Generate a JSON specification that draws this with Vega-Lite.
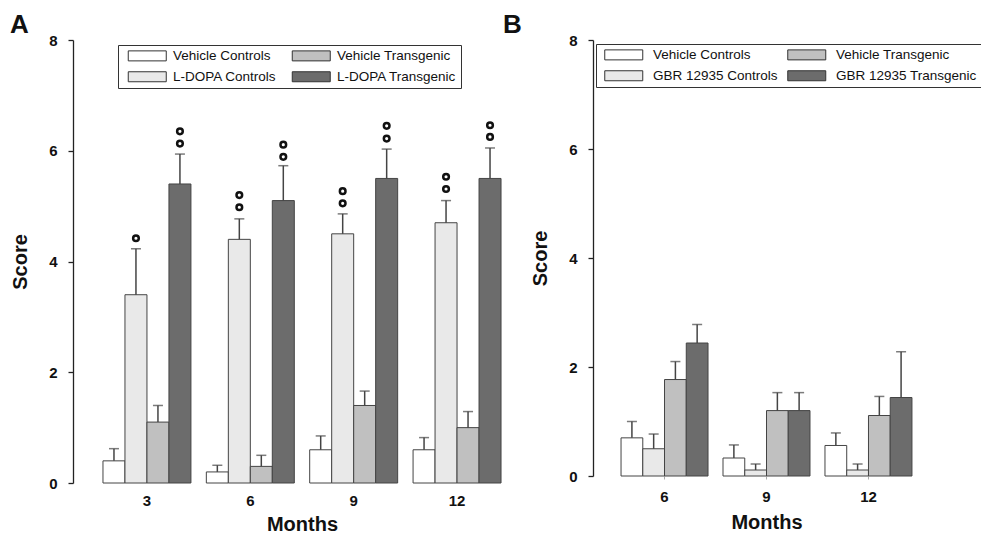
{
  "$schema": "https://vega.github.io/schema/vega-lite/v6.json",
  "background": "white",
  "padding": {"left": 10, "top": 12, "right": 0, "bottom": 0},
  "config": {
    "font": "Liberation Sans",
    "view": {"stroke": null},
    "axis": {"grid": false, "domainColor": "#222", "tickColor": "#222", "labelColor": "#111", "titleColor": "#111", "labelFont": "Liberation Sans", "titleFont": "Liberation Sans", "labelFontWeight": "bold", "titleFontWeight": "bold", "labelFontSize": 15, "titleFontSize": 20},
    "axisY": {"domainWidth": 1.3, "tickWidth": 1.3, "tickSize": 5, "labelPadding": 11, "titlePadding": 18, "format": "d"},
    "axisX": {"domain": false, "labelAngle": 0, "labelPadding": 10, "titlePadding": 6},
    "legend": {"labelFont": "Liberation Sans", "labelFontSize": 13.5, "labelColor": "#111", "labelLimit": 400}
  },
  "datasets": {
    "a": [
      {"month": 3, "group": "Vehicle Controls", "mean": 0.4, "err": 0.62},
      {"month": 3, "group": "L-DOPA Controls", "mean": 3.4, "err": 4.23},
      {"month": 3, "group": "Vehicle Transgenic", "mean": 1.1, "err": 1.4},
      {"month": 3, "group": "L-DOPA Transgenic", "mean": 5.4, "err": 5.94},
      {"month": 6, "group": "Vehicle Controls", "mean": 0.2, "err": 0.32},
      {"month": 6, "group": "L-DOPA Controls", "mean": 4.4, "err": 4.77},
      {"month": 6, "group": "Vehicle Transgenic", "mean": 0.3, "err": 0.5},
      {"month": 6, "group": "L-DOPA Transgenic", "mean": 5.1, "err": 5.73},
      {"month": 9, "group": "Vehicle Controls", "mean": 0.6, "err": 0.85},
      {"month": 9, "group": "L-DOPA Controls", "mean": 4.5, "err": 4.86},
      {"month": 9, "group": "Vehicle Transgenic", "mean": 1.4, "err": 1.66},
      {"month": 9, "group": "L-DOPA Transgenic", "mean": 5.5, "err": 6.03},
      {"month": 12, "group": "Vehicle Controls", "mean": 0.6, "err": 0.82},
      {"month": 12, "group": "L-DOPA Controls", "mean": 4.7, "err": 5.1},
      {"month": 12, "group": "Vehicle Transgenic", "mean": 1.0, "err": 1.29},
      {"month": 12, "group": "L-DOPA Transgenic", "mean": 5.5, "err": 6.05}
    ],
    "aSig": [
      {"month": 3, "group": "L-DOPA Controls", "y": 4.42},
      {"month": 3, "group": "L-DOPA Transgenic", "y": 6.13},
      {"month": 3, "group": "L-DOPA Transgenic", "y": 6.35},
      {"month": 6, "group": "L-DOPA Controls", "y": 4.98},
      {"month": 6, "group": "L-DOPA Controls", "y": 5.2},
      {"month": 6, "group": "L-DOPA Transgenic", "y": 5.89},
      {"month": 6, "group": "L-DOPA Transgenic", "y": 6.11},
      {"month": 9, "group": "L-DOPA Controls", "y": 5.05},
      {"month": 9, "group": "L-DOPA Controls", "y": 5.27},
      {"month": 9, "group": "L-DOPA Transgenic", "y": 6.22},
      {"month": 9, "group": "L-DOPA Transgenic", "y": 6.45},
      {"month": 12, "group": "L-DOPA Controls", "y": 5.31},
      {"month": 12, "group": "L-DOPA Controls", "y": 5.53},
      {"month": 12, "group": "L-DOPA Transgenic", "y": 6.25},
      {"month": 12, "group": "L-DOPA Transgenic", "y": 6.46}
    ],
    "b": [
      {"month": 6, "group": "Vehicle Controls", "mean": 0.7, "err": 1.0},
      {"month": 6, "group": "GBR 12935 Controls", "mean": 0.5, "err": 0.77},
      {"month": 6, "group": "Vehicle Transgenic", "mean": 1.77, "err": 2.1},
      {"month": 6, "group": "GBR 12935 Transgenic", "mean": 2.44, "err": 2.78},
      {"month": 9, "group": "Vehicle Controls", "mean": 0.33, "err": 0.57},
      {"month": 9, "group": "GBR 12935 Controls", "mean": 0.11, "err": 0.22},
      {"month": 9, "group": "Vehicle Transgenic", "mean": 1.2, "err": 1.53},
      {"month": 9, "group": "GBR 12935 Transgenic", "mean": 1.2, "err": 1.53},
      {"month": 12, "group": "Vehicle Controls", "mean": 0.56, "err": 0.79},
      {"month": 12, "group": "GBR 12935 Controls", "mean": 0.11, "err": 0.22},
      {"month": 12, "group": "Vehicle Transgenic", "mean": 1.11, "err": 1.46},
      {"month": 12, "group": "GBR 12935 Transgenic", "mean": 1.44, "err": 2.28}
    ]
  },
  "bounds": "flush",
  "spacing": 62,
  "resolve": {"scale": {"x": "independent", "y": "independent", "xOffset": "independent", "fill": "independent"}, "legend": {"fill": "independent"}},
  "hconcat": [
    {
      "width": 458,
      "height": 443,
      "title": {"text": "A", "anchor": "start", "frame": "group", "fontSize": 26, "fontWeight": "bold", "color": "#111", "dx": -63, "offset": -5},
      "layer": [
        {
          "data": {"name": "a"},
          "mark": {"type": "bar", "stroke": "#444", "strokeWidth": 1},
          "encoding": {
            "x": {"field": "month", "type": "ordinal", "sort": [3, 6, 9, 12], "scale": {"paddingInner": 0.149, "paddingOuter": 0.29}, "axis": {"ticks": false}, "title": "Months"},
            "xOffset": {"field": "group", "type": "nominal", "scale": {"domain": ["Vehicle Controls", "L-DOPA Controls", "Vehicle Transgenic", "L-DOPA Transgenic"], "paddingInner": 0, "paddingOuter": 0}},
            "y": {"field": "mean", "type": "quantitative", "scale": {"domain": [0, 8], "nice": false}, "axis": {"values": [0, 2, 4, 6, 8]}, "title": "Score"},
            "fill": {"field": "group", "type": "nominal", "scale": {"domain": ["Vehicle Controls", "L-DOPA Controls", "Vehicle Transgenic", "L-DOPA Transgenic"], "range": ["#ffffff", "#e9e9e9", "#c0c0c0", "#6c6c6c"]},
              "legend": {"orient": "none", "legendX": 45, "legendY": 5, "columns": 2, "title": null, "symbolType": "M-3.8,-1H3.8V1H-3.8Z", "symbolSize": 100, "symbolStrokeColor": "#333", "symbolStrokeWidth": 1, "symbolOffset": 18.5, "strokeColor": "#333", "padding": 4, "columnPadding": 9, "rowPadding": 6, "labelOffset": 19}}
          }
        },
        {
          "data": {"name": "a"},
          "mark": {"type": "rule", "color": "#444", "strokeWidth": 1.5},
          "encoding": {
            "x": {"field": "month", "type": "ordinal", "sort": [3, 6, 9, 12]},
            "xOffset": {"field": "group", "type": "nominal"},
            "y": {"field": "mean", "type": "quantitative"},
            "y2": {"field": "err"}
          }
        },
        {
          "data": {"name": "a"},
          "mark": {"type": "tick", "color": "#444", "thickness": 1.5, "size": 10, "orient": "horizontal"},
          "encoding": {
            "x": {"field": "month", "type": "ordinal", "sort": [3, 6, 9, 12]},
            "xOffset": {"field": "group", "type": "nominal"},
            "y": {"field": "err", "type": "quantitative"}
          }
        },
        {
          "data": {"name": "aSig"},
          "mark": {"type": "point", "shape": "circle", "filled": false, "color": "#111", "strokeWidth": 2.5, "size": 32, "opacity": 1},
          "encoding": {
            "x": {"field": "month", "type": "ordinal", "sort": [3, 6, 9, 12]},
            "xOffset": {"field": "group", "type": "nominal"},
            "y": {"field": "y", "type": "quantitative"}
          }
        }
      ]
    },
    {
      "width": 347,
      "height": 436,
      "title": {"text": "B", "anchor": "start", "frame": "group", "fontSize": 26, "fontWeight": "bold", "color": "#111", "dx": -90, "offset": -5},
      "layer": [
        {
          "data": {"name": "b"},
          "mark": {"type": "bar", "stroke": "#444", "strokeWidth": 1},
          "encoding": {
            "x": {"field": "month", "type": "ordinal", "sort": [6, 9, 12], "scale": {"paddingInner": 0.147, "paddingOuter": 0.275}, "axis": {"ticks": true, "tickSize": 3, "tickColor": "#aaa", "titlePadding": 8}, "title": "Months"},
            "xOffset": {"field": "group", "type": "nominal", "scale": {"domain": ["Vehicle Controls", "GBR 12935 Controls", "Vehicle Transgenic", "GBR 12935 Transgenic"], "paddingInner": 0, "paddingOuter": 0}},
            "y": {"field": "mean", "type": "quantitative", "scale": {"domain": [0, 8], "nice": false}, "axis": {"values": [0, 2, 4, 6, 8]}, "title": "Score"},
            "fill": {"field": "group", "type": "nominal", "scale": {"domain": ["Vehicle Controls", "GBR 12935 Controls", "Vehicle Transgenic", "GBR 12935 Transgenic"], "range": ["#ffffff", "#e9e9e9", "#c0c0c0", "#6c6c6c"]},
              "legend": {"orient": "none", "legendX": 3, "legendY": 4, "columns": 2, "title": null, "symbolType": "M-3.8,-1H3.8V1H-3.8Z", "symbolSize": 100, "symbolStrokeColor": "#333", "symbolStrokeWidth": 1, "symbolOffset": 17, "strokeColor": "#333", "padding": 4, "columnPadding": 5, "rowPadding": 6, "labelOffset": 22.5}}
          }
        },
        {
          "data": {"name": "b"},
          "mark": {"type": "rule", "color": "#444", "strokeWidth": 1.5},
          "encoding": {
            "x": {"field": "month", "type": "ordinal", "sort": [6, 9, 12]},
            "xOffset": {"field": "group", "type": "nominal"},
            "y": {"field": "mean", "type": "quantitative"},
            "y2": {"field": "err"}
          }
        },
        {
          "data": {"name": "b"},
          "mark": {"type": "tick", "color": "#444", "thickness": 1.5, "size": 10, "orient": "horizontal"},
          "encoding": {
            "x": {"field": "month", "type": "ordinal", "sort": [6, 9, 12]},
            "xOffset": {"field": "group", "type": "nominal"},
            "y": {"field": "err", "type": "quantitative"}
          }
        }
      ]
    }
  ]
}
